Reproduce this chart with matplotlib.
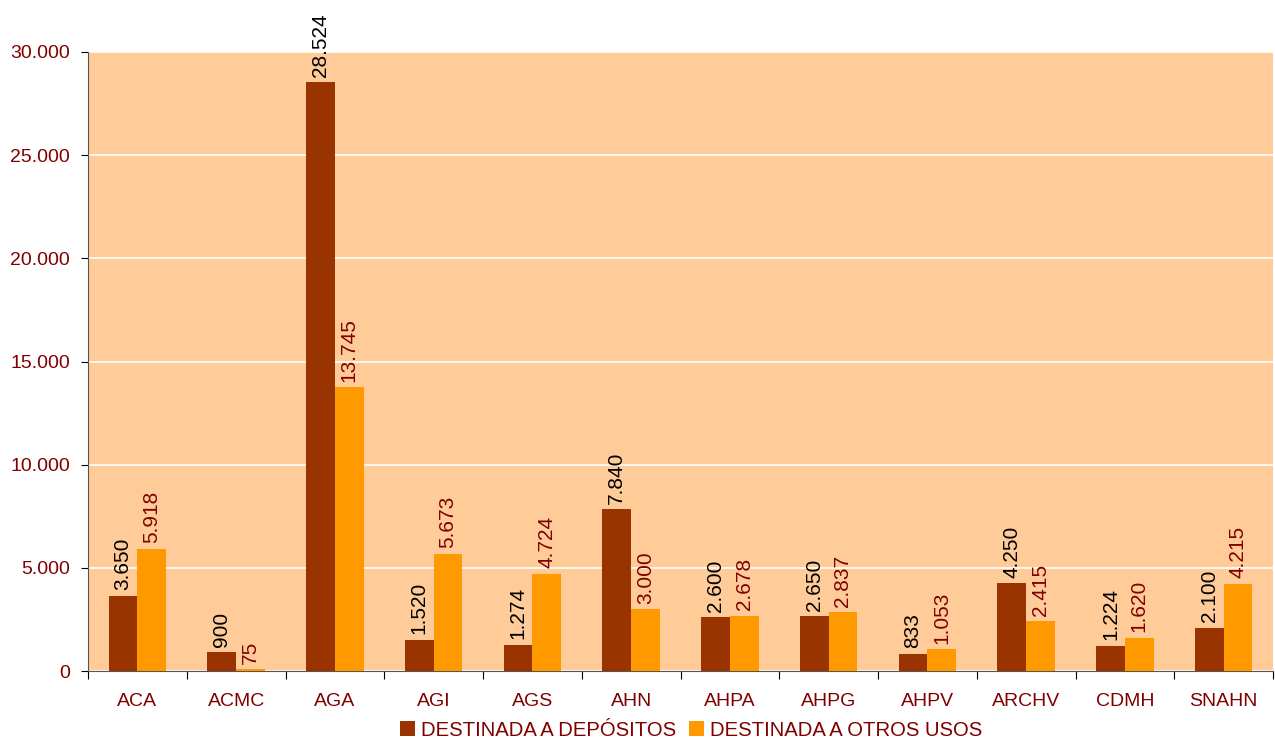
import matplotlib
matplotlib.use("Agg")
import matplotlib.pyplot as plt
from matplotlib.ticker import FuncFormatter, MultipleLocator
import numpy as np

categories = ["ACA", "ACMC", "AGA", "AGI", "AGS", "AHN", "AHPA", "AHPG", "AHPV", "ARCHV", "CDMH", "SNAHN"]
depositos = [3650, 900, 28524, 1520, 1274, 7840, 2600, 2650, 833, 4250, 1224, 2100]
otros_usos = [5918, 75, 13745, 5673, 4724, 3000, 2678, 2837, 1053, 2415, 1620, 4215]
series_names = ["DESTINADA A DEPÓSITOS", "DESTINADA A OTROS USOS"]

plt.rcParams['font.family'] = ['Liberation Sans', 'DejaVu Sans']

dark = "#993300"
orange = "#FF9900"
bg = "#FFCC99"
txt = "#800000"

def fmt(v):
    return f"{int(v):,}".replace(",", ".")

fig = plt.figure(figsize=(12.75, 7.4), dpi=100)
ax = fig.add_axes([88/1275, 1-671/740, (1273-88)/1275, (671-52)/740])
ax.set_facecolor(bg)

x = np.arange(len(categories))
w = 0.29
b1 = ax.bar(x - w/2, depositos, w, color=dark, label=series_names[0], zorder=3)
b2 = ax.bar(x + w/2, otros_usos, w, color=orange, label=series_names[1], zorder=3)

for rect, v in zip(b1, depositos):
    ax.annotate(fmt(v), (rect.get_x() + rect.get_width()/2, v), xytext=(0, 4),
                textcoords="offset points", rotation=90, ha="center", va="bottom",
                fontsize=15, color="black", zorder=4, annotation_clip=False)
for rect, v in zip(b2, otros_usos):
    ax.annotate(fmt(v), (rect.get_x() + rect.get_width()/2, v), xytext=(0, 4),
                textcoords="offset points", rotation=90, ha="center", va="bottom",
                fontsize=15, color=txt, zorder=4, annotation_clip=False)

ax.set_xlim(-0.5, len(categories) - 0.5)
ax.set_ylim(0, 30000)
ax.yaxis.set_major_locator(MultipleLocator(5000))
ax.yaxis.set_major_formatter(FuncFormatter(lambda v, p: fmt(v)))
ax.grid(axis="y", color="white", linewidth=1.2, zorder=1)

ax.set_xticks(np.arange(len(categories) + 1) - 0.5)
ax.set_xticklabels([])
ax.set_xticks(x, minor=True)
ax.set_xticklabels(categories, minor=True)
ax.tick_params(axis="x", which="minor", length=0, pad=16, labelsize=14, labelcolor=txt)
ax.tick_params(axis="x", which="major", length=6, color="black", direction="out")
ax.tick_params(axis="y", length=5, color="black", labelsize=14, labelcolor=txt, pad=8)

for s in ["top", "right"]:
    ax.spines[s].set_visible(False)
ax.spines["left"].set_color("#555555")
ax.spines["bottom"].set_color("#555555")

fig.legend(handles=[b1, b2], labels=series_names, loc="center", bbox_to_anchor=(0.542, 1-730/740),
           ncol=2, frameon=False, fontsize=14.6, labelcolor=txt, handlelength=0.75, handleheight=0.75,
           handletextpad=0.3, columnspacing=0.6)

fig.savefig("out.png", dpi=100)
